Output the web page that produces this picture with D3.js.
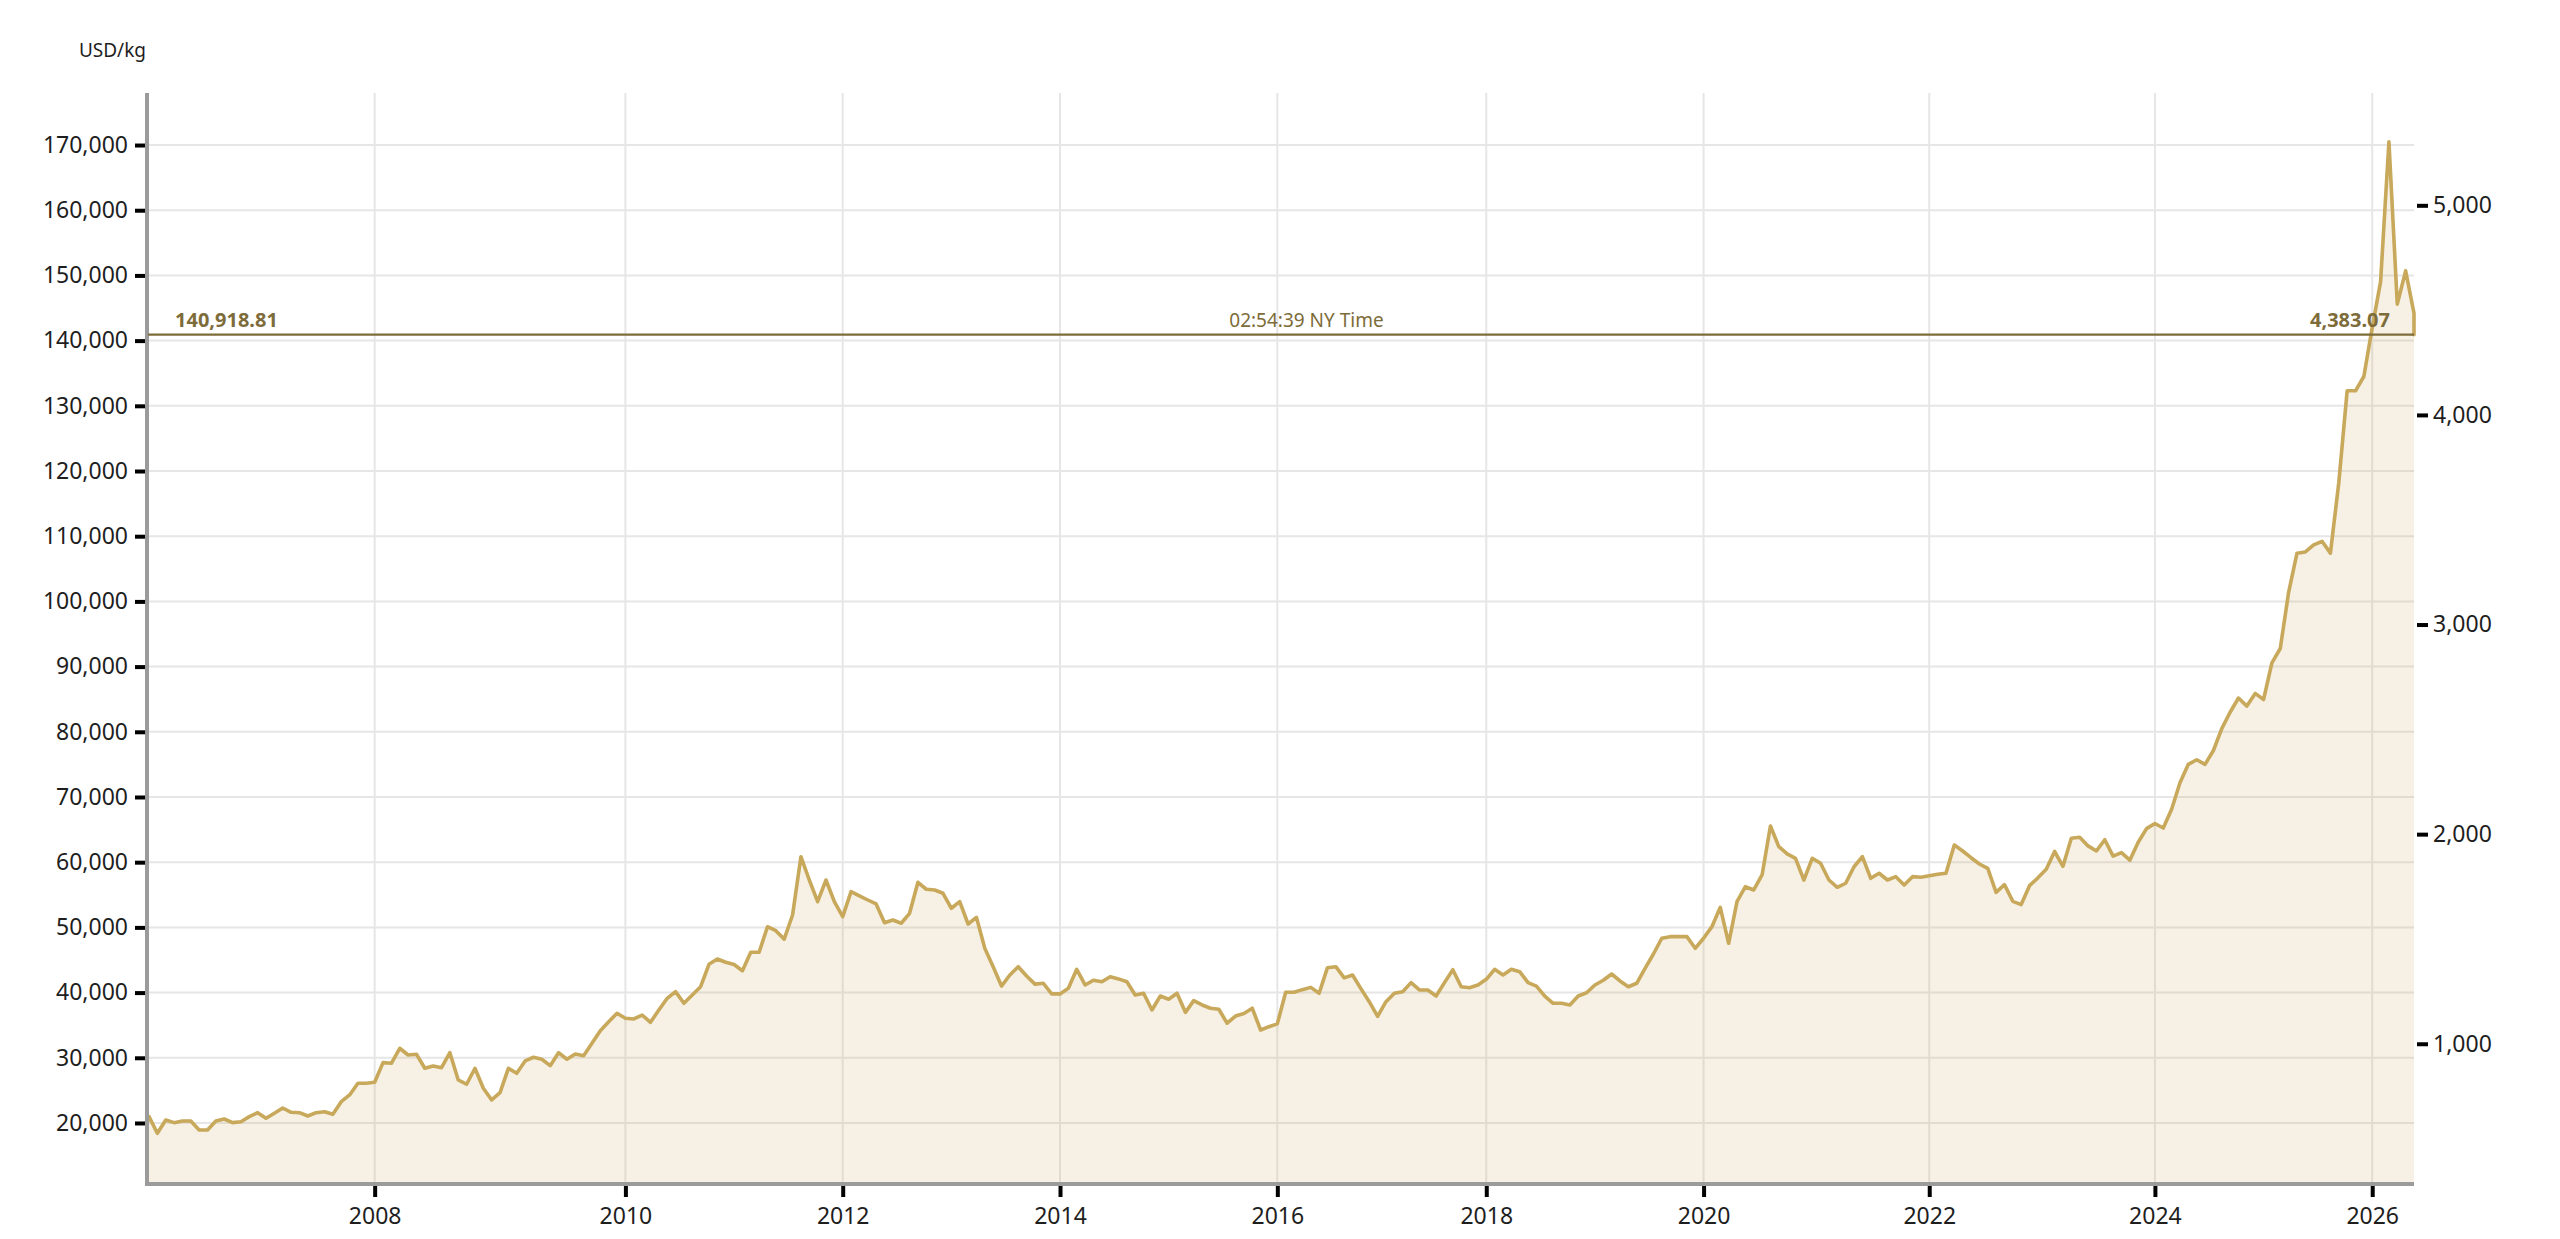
<!DOCTYPE html>
<html>
<head>
<meta charset="utf-8">
<script src="https://cdn.jsdelivr.net/npm/d3@7/dist/d3.min.js"></script>
<style>
  html, body { margin: 0; padding: 0; background: #ffffff; }
  svg { display: block; font-family: "Noto Sans", "Open Sans", sans-serif; }
</style>
</head>
<body>
<svg id="chart" width="2560" height="1239"></svg>
<script>
// ---- DATA ----
const prices = [
  20970, 18420, 20460, 20050, 20310, 20310, 18930, 18930, 20310, 20610,
  20050, 20200, 20970, 21580, 20720, 21500, 22300, 21640, 21580, 21070,
  21580, 21730, 21330, 23270, 24300, 26100, 26100, 26240, 29250, 29160,
  31460, 30430, 30540, 28390, 28740, 28480, 30780, 26600, 25940, 28390,
  25320, 23530, 24650, 28390, 27620, 29510, 30080, 29770, 28790, 30780,
  29770, 30580, 30320, 32220, 34160, 35540, 36820, 36060, 35950, 36560,
  35440, 37330, 39120, 40140, 38360, 39630, 40900, 44340, 45150, 44650,
  44300, 43360, 46180, 46180, 50100, 49500, 48200, 51900, 60840, 57270,
  53940, 57270, 53940, 51640, 55480, 54820, 54200, 53600, 50720, 51130,
  50630, 52160, 56920, 55850, 55740, 55230, 52930, 53940, 50520, 51550,
  46790, 43970, 41000, 42700, 43970, 42550, 41300, 41430, 39800, 39800,
  40660, 43570, 41170, 41900, 41670, 42440, 42100, 41670, 39630, 39900,
  37330, 39470, 38970, 39900, 36970, 38760, 38100, 37600, 37440, 35300,
  36400, 36800, 37600, 34260, 34770, 35200, 40050, 40050, 40450, 40800,
  39900, 43820, 43970, 42250, 42700, 40600, 38600, 36350, 38600, 39900,
  40140, 41530, 40400, 40400, 39470, 41530, 43500, 40900, 40750, 41170,
  42040, 43570, 42700, 43570, 43200, 41530, 41000, 39470, 38360, 38360,
  38100, 39470, 39980, 41170, 41900, 42850, 41780, 40900, 41430, 43720,
  45920, 48330, 48580, 48580, 48580, 46790, 48330, 50110, 53080, 47560,
  53940, 56240, 55740, 58040, 65550, 62380, 61260, 60600, 57270, 60600,
  59830, 57270, 56150, 56770, 59300, 60840, 57530, 58300, 57270, 57780,
  56500, 57780, 57680, 57930, 58140, 58300, 62640, 61720, 60690, 59720,
  59060, 55380, 56550, 54000, 53500, 56400, 57600, 58900, 61640, 59370,
  63670, 63830, 62500, 61720, 63440, 60940, 61470, 60310, 63050, 65150,
  65930, 65240, 68130, 72190, 75010, 75720, 75010, 77130, 80490, 83000,
  85180, 83940, 85890, 84950, 90580, 92780, 101400, 107400, 107580, 108670,
  109220, 107400, 118200, 132300, 132300, 134500, 142000, 149000, 170500, 145600,
  150700, 144200
];
const currentPrice = 140918.81;          // USD/kg, live
const currentPriceOz = 4383.07;          // USD/oz, live
const currentTime = "02:54:39 NY Time";
const gramsPerTroyOunce = 31.1034768;

// X tick labels and the sample index they sit on
const yearLabels = ["2008","2010","2012","2014","2016","2018","2020","2022","2024","2026"];
const yearIndex  = [27, 57, 83, 109, 135, 160, 186, 213, 240, 266];

// Y axis ticks
const kgTicks = d3.range(20000, 170001, 10000);
const ozTicks = [1000, 2000, 3000, 4000, 5000];
const yDomain = [10640, 177980];

(function () {
// ---- LAYOUT ----
const svg = d3.select("#chart");
const pLeft = 149, pRight = 2414, pTop = 93, pBottom = 1184;
const gold = "#c8a85a", olive = "#7d6c3a", grid = "#e6e6e6", axisGrey = "#9b9b9b", ink = "#1e1e1e";

const x = d3.scaleLinear().domain([0, prices.length - 1]).range([pLeft, pRight]);
const y = d3.scaleLinear().domain(yDomain).range([pBottom, pTop]);
const kgPerOz = 1000 / gramsPerTroyOunce;
const yOz = d3.scaleLinear().domain(yDomain.map(v => v / kgPerOz)).range([pBottom, pTop]);

svg.append("rect").attr("width", 2560).attr("height", 1239).attr("fill", "#fff");

// grid
const g = svg.append("g");
g.selectAll("line.h").data(kgTicks).join("line").attr("class", "h")
  .attr("x1", pLeft - 1).attr("x2", pRight)
  .attr("y1", d => y(d)).attr("y2", d => y(d))
  .attr("stroke", grid).attr("stroke-width", 2);
g.selectAll("line.v").data(yearIndex).join("line").attr("class", "v")
  .attr("x1", d => x(d)).attr("x2", d => x(d))
  .attr("y1", pTop).attr("y2", pBottom)
  .attr("stroke", grid).attr("stroke-width", 2);

// series points + final live point at the last sample's position
const pts = prices.map((v, i) => ({ i, v }));
pts.push({ i: prices.length - 1, v: currentPrice });

const area = d3.area().x(d => x(d.i)).y0(pBottom).y1(d => y(d.v));
const line = d3.line().x(d => x(d.i)).y(d => y(d.v));

svg.append("path").datum(pts).attr("d", area)
  .attr("fill", gold).attr("fill-opacity", 0.16);
svg.append("path").datum(pts).attr("d", line)
  .attr("fill", "none").attr("stroke", gold).attr("stroke-width", 3.6)
  .attr("stroke-linejoin", "round").attr("stroke-linecap", "round");

// axis lines
svg.append("line").attr("x1", 147).attr("x2", 147).attr("y1", pTop).attr("y2", pBottom + 2)
  .attr("stroke", axisGrey).attr("stroke-width", 4);
svg.append("line").attr("x1", 145).attr("x2", pRight).attr("y1", pBottom).attr("y2", pBottom)
  .attr("stroke", axisGrey).attr("stroke-width", 4);

// axes
const fmt = d3.format(",");
function styleAxis(sel) {
  sel.select(".domain").remove();
  sel.selectAll(".tick line").attr("stroke", "#000").attr("stroke-width", 4);
  sel.selectAll(".tick text").attr("fill", ink).style("font-size", "23px")
     .style("font-family", '"Noto Sans", sans-serif');
}
svg.append("g").attr("transform", "translate(145,0)")
  .call(d3.axisLeft(y).tickValues(kgTicks).tickFormat(fmt).tickSize(10).tickPadding(7))
  .call(styleAxis);
svg.append("g").attr("transform", `translate(${pRight + 3},0)`)
  .call(d3.axisRight(yOz).tickValues(ozTicks).tickFormat(fmt).tickSize(11).tickPadding(5))
  .call(styleAxis);
svg.append("g").attr("transform", `translate(0,${pBottom + 2})`)
  .call(d3.axisBottom(x).tickValues(yearIndex).tickFormat((d, i) => yearLabels[i]).tickSize(11).tickPadding(11))
  .call(styleAxis);

// unit label
svg.append("text").attr("x", 146).attr("y", 57).attr("text-anchor", "end")
  .attr("fill", ink).style("font-size", "19px").text("USD/kg");

// current price reference line
const yc = y(currentPrice);
svg.append("line").attr("x1", pLeft - 1).attr("x2", pRight).attr("y1", yc).attr("y2", yc)
  .attr("stroke", olive).attr("stroke-width", 2.2);
svg.append("text").attr("x", pLeft + 26).attr("y", yc - 8)
  .attr("fill", olive).style("font-size", "20px").style("font-weight", "bold")
  .text(d3.format(",.2f")(currentPrice));
svg.append("text").attr("x", pRight - 24).attr("y", yc - 8).attr("text-anchor", "end")
  .attr("fill", olive).style("font-size", "20px").style("font-weight", "bold")
  .text(d3.format(",.2f")(currentPriceOz));
svg.append("text").attr("x", (pLeft + pRight) / 2 + 25).attr("y", yc - 8).attr("text-anchor", "middle")
  .attr("fill", olive).style("font-size", "19px")
  .text(currentTime);
})();
</script>
</body>
</html>
